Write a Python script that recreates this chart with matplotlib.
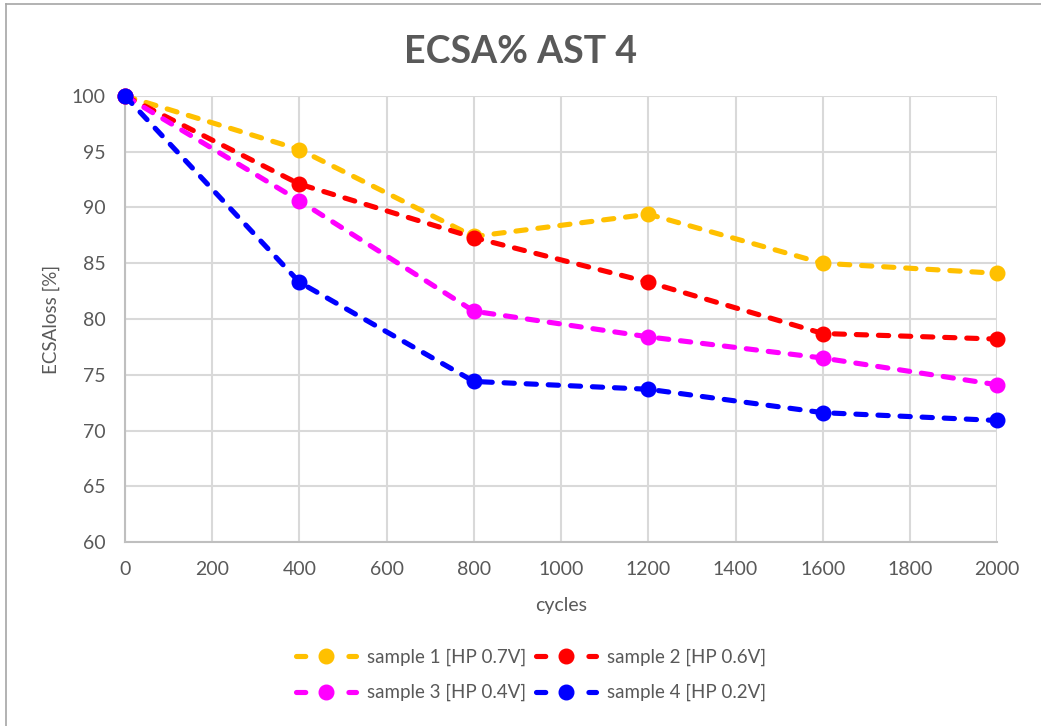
import matplotlib
matplotlib.use("Agg")
import matplotlib.pyplot as plt
from matplotlib.lines import Line2D

plt.rcParams['font.family'] = ['Lato', 'DejaVu Sans']

cycles = [0, 400, 800, 1200, 1600, 2000]
sample1 = [100, 95.2, 87.4, 89.4, 85.0, 84.1]
sample2 = [100, 92.1, 87.3, 83.3, 78.7, 78.2]
sample3 = [100, 90.6, 80.7, 78.4, 76.5, 74.1]
sample4 = [100, 83.3, 74.4, 73.7, 71.6, 70.9]

series = [
    ("sample 1 [HP 0.7V]", sample1, "#FFC000"),
    ("sample 2 [HP 0.6V]", sample2, "#FF0000"),
    ("sample 3 [HP 0.4V]", sample3, "#FF00FF"),
    ("sample 4 [HP 0.2V]", sample4, "#0000FF"),
]

x_ticks = list(range(0, 2001, 200))
y_ticks = list(range(60, 101, 5))

text_color = "#595959"
grid_color = "#D9D9D9"
dash = (0, (2.0, 2.3))
legend_dash = (0, (1.8, 8.4))

fig = plt.figure(figsize=(10.41, 7.26), dpi=100)
ax = fig.add_axes([0.120, 0.2534, 0.838, 0.6144])

for label, vals, color in series:
    ax.plot(cycles, vals, linestyle=dash, color=color, linewidth=3.7,
            dash_capstyle='round', marker='o', markersize=10.5,
            label=label, zorder=3, clip_on=False)

ax.set_xlim(0, 2000)
ax.set_ylim(60, 100)
ax.set_xticks(x_ticks)
ax.set_yticks(y_ticks)
ax.grid(True, color=grid_color, linewidth=1.5)
ax.set_axisbelow(True)
for side in ("top", "right"):
    ax.spines[side].set_visible(False)
for side in ("left", "bottom"):
    ax.spines[side].set_color("#BFBFBF")
    ax.spines[side].set_linewidth(1.5)
ax.tick_params(length=0, labelsize=14, colors=text_color, pad=14)

ax.set_xlabel("cycles", fontsize=14, color=text_color, labelpad=13)
ax.set_ylabel("ECSAloss [%]", fontsize=13.5, color=text_color, labelpad=8)
fig.text(0.5, 0.928, "ECSA% AST 4", ha='center', va='center', fontsize=27,
         fontweight='bold', color=text_color)

# legend entries filled row by row: 1 2 / 3 4
order = [0, 2, 1, 3]
handles = [Line2D([0], [0], linestyle=legend_dash, color=series[i][2], linewidth=3.7,
                  dash_capstyle='round', marker='o', markersize=10.5) for i in order]
labels = [series[i][0] for i in order]
leg = fig.legend(handles, labels, ncol=2, loc='center', bbox_to_anchor=(0.51, 0.07),
                 frameon=False, fontsize=13.5, handlelength=3.2, handletextpad=0.6,
                 columnspacing=0.5, labelspacing=0.95)
for t in leg.get_texts():
    t.set_color(text_color)

# thin frame around the chart area
fig.add_artist(plt.Line2D([0.0062, 0.0062], [0, 0.9945], transform=fig.transFigure,
                          color="#A6A6A6", linewidth=1.2))
fig.add_artist(plt.Line2D([0.0062, 1.0], [0.9945, 0.9945], transform=fig.transFigure,
                          color="#A6A6A6", linewidth=1.2))

fig.savefig("out.png", dpi=100)
